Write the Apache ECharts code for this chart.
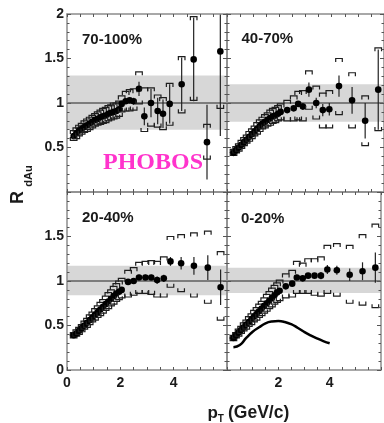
<!DOCTYPE html>
<html><head><meta charset="utf-8">
<script src="https://cdn.jsdelivr.net/npm/echarts@6/dist/echarts.min.js"></script>
<style>html,body{margin:0;padding:0;background:#fff}#c{width:384px;height:423px}</style>
</head><body><div id="c"></div>
<script>
// ---------- data ----------
const panelNames = ['70-100%', '40-70%', '20-40%', '0-20%'];
const xTickLabelsLeft = [0, 2, 4];
const xTickLabelsRight = [2, 4];
const yTickLabelsTop = [0.5, 1, 1.5, 2];
const yTickLabelsBottom = [0, 0.5, 1, 1.5];

// 70-100%
const ptA = [0.25,0.35,0.45,0.55,0.65,0.75,0.85,0.95,1.05,1.15,1.25,1.35,1.45,1.55,1.65,1.75,1.85,1.95,2.05,2.2,2.35,2.5,2.7,2.9,3.15,3.4,3.6,3.85,4.3,4.75,5.25,5.75];
const rA  = [0.63,0.66,0.69,0.71,0.73,0.75,0.77,0.79,0.81,0.82,0.84,0.85,0.86,0.88,0.89,0.90,0.91,0.93,0.99,1.02,1.03,1.02,1.16,0.85,1.00,0.91,0.88,0.99,1.21,1.49,0.56,1.58];
const statA = [0.01,0.01,0.01,0.01,0.01,0.01,0.01,0.01,0.01,0.01,0.01,0.01,0.01,0.01,0.01,0.02,0.02,0.02,0.02,0.03,0.03,0.04,0.08,0.10,0.16,0.15,0.16,0.22,0.30,0.47,0.42,0.95];
const hiA = [0.69,0.72,0.75,0.77,0.80,0.82,0.84,0.86,0.88,0.90,0.92,0.94,0.95,0.97,0.98,1.00,1.00,1.02,1.08,1.13,1.15,1.16,1.35,1.17,1.17,1.09,1.06,1.22,1.52,1.97,0.76,2.30];
const loA = [0.58,0.60,0.63,0.65,0.67,0.68,0.70,0.72,0.74,0.75,0.76,0.77,0.78,0.80,0.81,0.82,0.83,0.85,0.90,0.91,0.91,0.92,0.99,0.68,0.74,0.73,0.70,0.75,0.89,1.03,0.37,0.94];
const bandA = [0.70, 1.31];

// 40-70%
const ptB = [0.25,0.35,0.45,0.55,0.65,0.75,0.85,0.95,1.05,1.15,1.25,1.35,1.45,1.55,1.65,1.75,1.85,1.95,2.05,2.3,2.55,2.72,2.9,3.13,3.41,3.66,3.91,4.28,4.78,5.28,5.78];
const rB  = [0.44,0.47,0.50,0.53,0.56,0.59,0.62,0.65,0.68,0.71,0.74,0.77,0.79,0.81,0.83,0.85,0.86,0.88,0.90,0.92,0.94,0.99,0.96,1.15,1.00,0.92,0.93,1.19,1.03,0.80,1.15];
const statB = [0.01,0.01,0.01,0.01,0.01,0.01,0.01,0.01,0.01,0.01,0.01,0.01,0.01,0.01,0.01,0.01,0.02,0.02,0.02,0.02,0.03,0.03,0.04,0.08,0.06,0.07,0.07,0.12,0.15,0.20,0.45];
const hiB = [0.48,0.51,0.54,0.58,0.61,0.64,0.68,0.71,0.74,0.78,0.81,0.84,0.87,0.89,0.92,0.94,0.95,0.97,0.99,1.03,1.08,1.13,1.14,1.36,1.19,1.11,1.14,1.50,1.34,1.08,1.62];
const loB = [0.41,0.44,0.46,0.49,0.52,0.55,0.57,0.60,0.63,0.65,0.68,0.71,0.72,0.74,0.75,0.77,0.78,0.80,0.81,0.80,0.80,0.81,0.80,0.93,0.82,0.72,0.72,0.87,0.72,0.52,0.69];
const bandB = [0.79, 1.21];

// 20-40%
const ptC = [0.25,0.35,0.45,0.55,0.65,0.75,0.85,0.95,1.05,1.15,1.25,1.35,1.45,1.55,1.65,1.75,1.85,1.95,2.05,2.29,2.5,2.7,2.94,3.16,3.38,3.63,3.88,4.28,4.76,5.28,5.76];
const rC  = [0.39,0.41,0.44,0.47,0.50,0.53,0.56,0.59,0.62,0.65,0.68,0.71,0.74,0.77,0.80,0.83,0.86,0.88,0.90,0.99,1.00,1.04,1.04,1.04,1.01,1.03,1.22,1.20,1.17,1.15,0.93];
const statC = [0.01,0.01,0.01,0.01,0.01,0.01,0.01,0.01,0.01,0.01,0.01,0.01,0.01,0.01,0.01,0.01,0.01,0.02,0.02,0.02,0.02,0.03,0.03,0.03,0.04,0.04,0.05,0.07,0.10,0.14,0.20];
const hiC = [0.42,0.45,0.48,0.51,0.55,0.58,0.62,0.65,0.69,0.72,0.76,0.79,0.83,0.87,0.90,0.94,0.97,1.00,1.03,1.12,1.15,1.21,1.22,1.23,1.22,1.27,1.50,1.52,1.54,1.56,1.33];
const loC = [0.36,0.38,0.40,0.43,0.46,0.48,0.51,0.54,0.56,0.59,0.61,0.64,0.67,0.69,0.72,0.74,0.77,0.79,0.81,0.82,0.84,0.86,0.86,0.85,0.82,0.82,0.93,0.88,0.82,0.75,0.56];
const bandC = [0.84, 1.17];

// 0-20%
const ptD = [0.25,0.35,0.45,0.55,0.65,0.75,0.85,0.95,1.05,1.15,1.25,1.35,1.45,1.55,1.65,1.75,1.85,1.95,2.05,2.29,2.54,2.72,2.95,3.16,3.41,3.66,3.91,4.28,4.78,5.28,5.78];
const rD  = [0.36,0.39,0.42,0.45,0.48,0.51,0.54,0.57,0.60,0.63,0.66,0.69,0.72,0.75,0.78,0.81,0.84,0.87,0.89,0.94,0.97,1.04,1.03,1.06,1.06,1.06,1.13,1.12,1.07,1.11,1.15];
const statD = [0.01,0.01,0.01,0.01,0.01,0.01,0.01,0.01,0.01,0.01,0.01,0.01,0.01,0.01,0.01,0.01,0.01,0.02,0.02,0.02,0.02,0.03,0.03,0.03,0.03,0.04,0.05,0.05,0.07,0.10,0.17];
const hiD = [0.39,0.42,0.46,0.49,0.53,0.56,0.60,0.63,0.67,0.70,0.74,0.77,0.81,0.85,0.88,0.92,0.95,0.98,1.01,1.08,1.12,1.22,1.20,1.25,1.25,1.27,1.40,1.42,1.40,1.52,1.64];
const loD = [0.33,0.36,0.38,0.41,0.44,0.46,0.49,0.51,0.54,0.56,0.59,0.61,0.64,0.66,0.69,0.71,0.74,0.76,0.78,0.81,0.82,0.86,0.86,0.86,0.84,0.83,0.86,0.83,0.75,0.73,0.70];
const bandD = [0.865, 1.15];

// model curve in 0-20% panel
const curveX = [0.25,0.5,0.75,1.0,1.25,1.5,1.75,2.0,2.25,2.5,2.75,3.0,3.25,3.5,3.75,4.0];
const curveY = [0.255,0.28,0.36,0.43,0.48,0.525,0.545,0.55,0.54,0.515,0.475,0.43,0.39,0.355,0.325,0.30];

// ---------- chart ----------
const panels = [
  {pt: ptA, r: rA, st: statA, hi: hiA, lo: loA, band: bandA},
  {pt: ptB, r: rB, st: statB, hi: hiB, lo: loB, band: bandB},
  {pt: ptC, r: rC, st: statC, hi: hiC, lo: loC, band: bandC},
  {pt: ptD, r: rD, st: statD, hi: hiD, lo: loD, band: bandD}
];

const FONT = '"Liberation Sans", Arial, Helvetica, sans-serif';
const AXC = '#8c8c8c';
const TICKC = '#555';
const grids = [
  {left: 67, top: 14, width: 160, height: 178},
  {left: 227, top: 14, width: 160, height: 178},
  {left: 67, top: 192, width: 160, height: 178},
  {left: 227, top: 192, width: 160, height: 178}
];

const xAxes = [], yAxes = [];
for (let pos of ['bottom', 'top']) {
  for (let i = 0; i < 4; i++) {
    const labs = pos === 'bottom' && i >= 2 ? (i === 2 ? xTickLabelsLeft : xTickLabelsRight) : [];
    xAxes.push({
      type: 'value', gridIndex: i, position: pos, min: 0, max: 6, interval: 0.5, z: 10,
      axisLine: {show: true, onZero: false, lineStyle: {color: AXC, width: 1.5}},
      axisTick: {show: true, inside: true, length: 3, lineStyle: {color: TICKC, width: 1}},
      splitLine: {show: false},
      axisLabel: {show: labs.length > 0, margin: 6, color: '#1a1a1a', fontFamily: FONT, fontWeight: 'bold', fontSize: 14,
        formatter: v => labs.indexOf(v) >= 0 ? String(v) : ''}
    });
  }
}
for (let pos of ['left', 'right']) {
  for (let i = 0; i < 4; i++) {
    let labs = [];
    if (pos === 'left' && i === 0) labs = yTickLabelsTop;
    if (pos === 'left' && i === 2) labs = yTickLabelsBottom;
    yAxes.push({
      type: 'value', gridIndex: i, position: pos, min: 0, max: 2, interval: 0.5, z: 10,
      axisLine: {show: true, onZero: false, lineStyle: {color: AXC, width: 1.5}},
      axisTick: {show: true, inside: true, length: 4, lineStyle: {color: TICKC, width: 1}},
      minorTick: {show: true, splitNumber: 5, length: 2.5, lineStyle: {color: TICKC, width: 1}},
      splitLine: {show: false}, minorSplitLine: {show: false},
      axisLabel: {show: labs.length > 0, margin: 3, color: '#1a1a1a', fontFamily: FONT, fontWeight: 'bold', fontSize: 14,
        formatter: v => labs.indexOf(v) >= 0 ? String(v) : ''}
    });
  }
}

function renderBand(params, api) {
  const a = api.coord([api.value(0), api.value(3)]);
  const b = api.coord([api.value(1), api.value(2)]);
  const l1 = api.coord([api.value(0), 1]);
  const l2 = api.coord([api.value(1), 1]);
  return {type: 'group', children: [
    {type: 'rect', shape: {x: a[0], y: a[1], width: b[0] - a[0], height: b[1] - a[1]}, style: {fill: '#d7d7d7'}},
    {type: 'line', shape: {x1: l1[0], y1: l1[1], x2: l2[0], y2: l2[1]}, style: {stroke: '#7d7d7d', lineWidth: 2}}
  ]};
}

function renderPoint(params, api) {
  const x = api.value(0), r = api.value(1), st = api.value(2), hi = api.value(3), lo = api.value(4);
  const c = api.coord([x, r]);
  const s1 = api.coord([x, r + st]), s2 = api.coord([x, r - st]);
  const ph = api.coord([x, hi]), pl = api.coord([x, lo]);
  const w = 3.3, h = 3.5;
  const st2 = {stroke: '#1e1e1e', lineWidth: 1.2, fill: 'none'};
  return {type: 'group', children: [
    {type: 'line', shape: {x1: c[0], y1: s1[1], x2: c[0], y2: s2[1]}, style: {stroke: '#222', lineWidth: 1.2}},
    {type: 'polyline', shape: {points: [[ph[0] - w, ph[1] + h], [ph[0] - w, ph[1]], [ph[0] + w, ph[1]], [ph[0] + w, ph[1] + h]]}, style: st2},
    {type: 'polyline', shape: {points: [[pl[0] - w, pl[1] - h], [pl[0] - w, pl[1]], [pl[0] + w, pl[1]], [pl[0] + w, pl[1] - h]]}, style: st2},
    {type: 'circle', shape: {cx: c[0], cy: c[1], r: 3.3}, style: {fill: '#000'}}
  ]};
}

const series = [];
panels.forEach((p, i) => {
  series.push({
    type: 'custom', xAxisIndex: i, yAxisIndex: i, z: 1, clip: true, silent: true,
    renderItem: renderBand, encode: {x: [0, 1], y: [2, 3]},
    data: [[0, 6, p.band[0], p.band[1]]]
  });
  series.push({
    type: 'custom', xAxisIndex: i, yAxisIndex: i, z: 3, clip: true, silent: true,
    renderItem: renderPoint, encode: {x: 0, y: 1},
    data: p.pt.map((x, k) => [x, p.r[k], p.st[k], p.hi[k], p.lo[k]])
  });
});
series.push({
  type: 'line', xAxisIndex: 3, yAxisIndex: 3, z: 4, smooth: true, showSymbol: false, symbol: 'none', silent: true,
  lineStyle: {color: '#000', width: 2.5},
  data: curveX.map((x, k) => [x, curveY[k]])
});

const labelPos = [[82, 39.5], [241.5, 39], [82, 217.5], [241, 218.5]];
const graphic = panelNames.map((n, i) => ({
  type: 'text', x: labelPos[i][0], y: labelPos[i][1], z: 20,
  style: {text: n, fill: '#1a1a1a', font: 'bold 15px ' + FONT, textAlign: 'left', textVerticalAlign: 'middle'}
}));
graphic.push(
  {type: 'text', x: 153, y: 162.5, z: 20, style: {text: 'PHOBOS', fill: '#ff33cc', font: 'bold 24px "Liberation Serif", "Times New Roman", serif', textAlign: 'center', textVerticalAlign: 'middle'}},
  {type: 'text', x: 18.5, y: 197.5, rotation: Math.PI / 2, z: 20, style: {text: 'R', fill: '#1a1a1a', font: 'bold 18px ' + FONT, textAlign: 'center', textVerticalAlign: 'middle'}},
  {type: 'text', x: 29, y: 176, rotation: Math.PI / 2, z: 20, style: {text: 'dAu', fill: '#1a1a1a', font: 'bold 11px ' + FONT, textAlign: 'center', textVerticalAlign: 'middle'}},
  {type: 'text', x: 207.5, y: 413, z: 20, style: {text: 'p', fill: '#1a1a1a', font: 'bold 17px ' + FONT, textAlign: 'left', textVerticalAlign: 'middle'}},
  {type: 'text', x: 217.8, y: 419, z: 20, style: {text: 'T', fill: '#1a1a1a', font: 'bold 10px ' + FONT, textAlign: 'left', textVerticalAlign: 'middle'}},
  {type: 'text', x: 228, y: 413.5, z: 20, style: {text: '(GeV/c)', fill: '#1a1a1a', font: 'bold 17.5px ' + FONT, textAlign: 'left', textVerticalAlign: 'middle'}}
);

const chart = echarts.init(document.getElementById('c'), null, {renderer: 'canvas'});
chart.setOption({
  animation: false,
  backgroundColor: '#fff',
  grid: grids,
  xAxis: xAxes,
  yAxis: yAxes,
  series: series,
  graphic: graphic
});
</script></body></html>
